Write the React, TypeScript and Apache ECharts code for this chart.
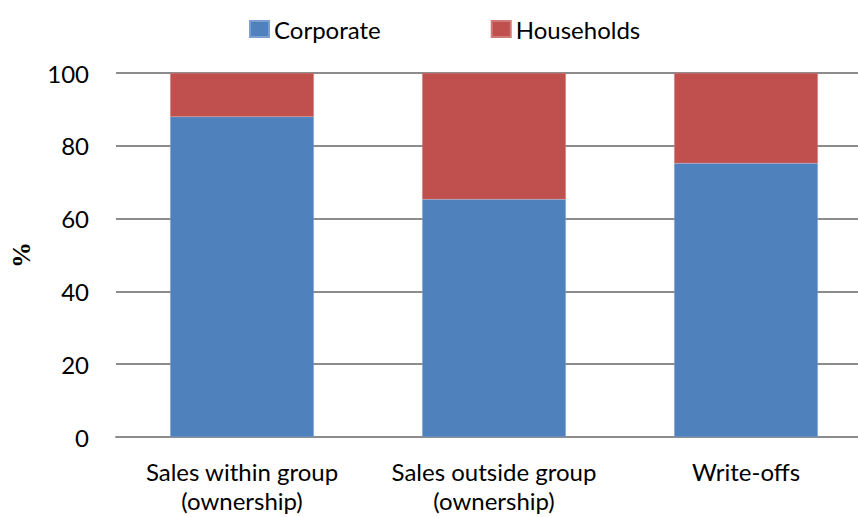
import React, { useEffect, useRef } from "react";
import * as echarts from "echarts";

const categories = ["Sales within group\n(ownership)", "Sales outside group\n(ownership)", "Write-offs"];
const corporate = [88, 65.3, 75.2];
const households = [12, 34.7, 24.8];
const yTicks = [0, 20, 40, 60, 80, 100];

const FONT = "Lato, 'Open Sans', sans-serif";

export default function App() {
  const ref = useRef<HTMLDivElement>(null);
  useEffect(() => {
    const chart = echarts.init(ref.current!, undefined, { renderer: "svg" });
    chart.setOption({
      animation: false,
      legend: {
        left: 244,
        top: 12,
        icon: "rect",
        itemWidth: 19,
        itemHeight: 16,
        itemGap: 110,
        textStyle: { fontFamily: FONT, fontSize: 24, color: "#000" },
        data: ["Corporate", "Households"],
      },
      grid: { left: 116, right: -14, top: 73, bottom: 80, outerBoundsMode: "none", containLabel: false },
      xAxis: {
        type: "category",
        data: categories,
        axisLine: { lineStyle: { color: "#8c8c8c", width: 2 } },
        axisTick: { show: false },
        axisLabel: { interval: 0, fontFamily: FONT, fontSize: 24, color: "#000", lineHeight: 29, margin: 20 },
      },
      yAxis: {
        type: "value",
        min: yTicks[0],
        max: yTicks[yTicks.length - 1],
        interval: 20,
        name: "%",
        nameLocation: "middle",
        nameGap: 82,
        nameRotate: 90,
        nameTextStyle: { fontFamily: "'Liberation Serif', 'Times New Roman', serif", fontWeight: 700, fontSize: 26, color: "#000" },
        axisLine: { show: false },
        axisTick: { show: false },
        splitLine: { lineStyle: { color: "#8c8c8c", width: 2 } },
        axisLabel: { fontFamily: FONT, fontSize: 24, color: "#000", margin: 27 },
      },
      series: [
        {
          name: "Corporate",
          type: "bar",
          stack: "total",
          barWidth: "57%",
          data: corporate,
          itemStyle: { color: "#4F81BD", borderColor: "#7a9fd0", borderWidth: 0.5 },
        },
        {
          name: "Households",
          type: "bar",
          stack: "total",
          data: households,
          itemStyle: { color: "#C0504D", borderColor: "#d07a78", borderWidth: 0.5 },
        },
      ],
    });
    return () => chart.dispose();
  }, []);
  return <div ref={ref} style={{ width: 858, height: 517, position: "absolute", left: 0, top: 0 }} />;
}
